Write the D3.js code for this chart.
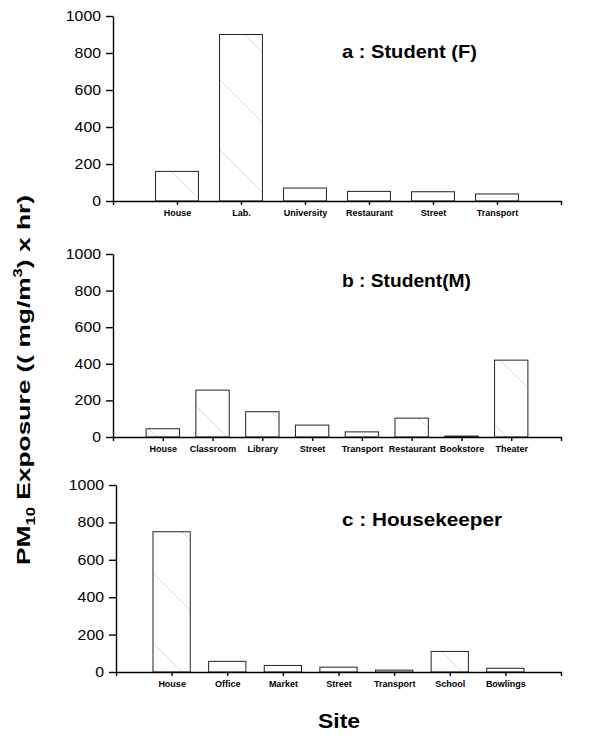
<!DOCTYPE html>
<html>
<head>
<meta charset="utf-8">
<script src="https://cdn.jsdelivr.net/npm/d3@7"></script>
<style>
  body { margin: 0; background: #fff; }
  svg { display: block; font-family: "Liberation Sans", Arial, Helvetica, sans-serif; }
</style>
</head>
<body>
<svg id="chart" width="589" height="736"></svg>
<script>
// data
const catsA = ['House', 'Lab.', 'University', 'Restaurant', 'Street', 'Transport']
const valsA = [160, 900, 70, 52, 50, 38]

const catsB = ['House', 'Classroom', 'Library', 'Street', 'Transport', 'Restaurant', 'Bookstore', 'Theater']
const valsB = [45, 256, 138, 65, 28, 103, 5, 420]

const catsC = ['House', 'Office', 'Market', 'Street', 'Transport', 'School', 'Bowlings']
const valsC = [750, 57, 35, 26, 10, 110, 20]

const yTicks = [0, 200, 400, 600, 800, 1000]

const svg = d3.select('#chart')

// sparse diagonal hatch, like the scanned bars
svg.append('defs').append('pattern')
    .attr('id', 'hatch')
    .attr('patternUnits', 'userSpaceOnUse')
    .attr('width', 70).attr('height', 70)
    .append('path')
    .attr('d', 'M0,0 L70,70')
    .attr('stroke', '#c4c4c4')
    .attr('stroke-width', 0.6)

const drawPanel = (cats, vals, box, title) => {
    const n = cats.length
    const x = d3.scaleLinear().domain([0, n + 1]).range([box.x0, box.x1])
    const y = d3.scaleLinear().domain([0, 1000]).range([box.y0, box.y1])
    const step = x(1) - x(0)
    const bw = step * 0.67

    const g = svg.append('g')

    g.selectAll('rect.bar')
        .data(vals)
        .enter().append('rect')
        .attr('class', 'bar')
        .attr('x', (d, i) => x(i + 1) - bw / 2)
        .attr('y', d => y(d))
        .attr('width', bw)
        .attr('height', d => y(0) - y(d))
        .attr('fill', d => d < 10 ? '#bbb' : 'url(#hatch)')
        .attr('stroke', '#222')
        .attr('stroke-width', 1)

    const xAxis = g.append('g')
        .attr('transform', `translate(0,${y(0)})`)
        .call(d3.axisBottom(x)
            .tickValues(d3.range(1, n + 1))
            .tickFormat(i => cats[i - 1])
            .tickSize(4)
            .tickSizeOuter(4)
            .tickPadding(4.5))
    xAxis.selectAll('text')
        .attr('font-size', 9)
        .attr('font-weight', 'bold')
        .attr('fill', '#000')

    const yAxis = g.append('g')
        .attr('transform', `translate(${box.x0},0)`)
        .call(d3.axisLeft(y)
            .tickValues(yTicks)
            .tickFormat(d3.format('d'))
            .tickSize(7)
            .tickSizeOuter(0)
            .tickPadding(5))
    // scanned digits are a little wider than the font
    yAxis.selectAll('text')
        .attr('font-size', 14)
        .attr('fill', '#000')
        .attr('textLength', d => String(d).length * 8.8)
        .attr('lengthAdjust', 'spacingAndGlyphs')

    g.selectAll('.domain, .tick line')
        .attr('stroke', '#000')
        .attr('stroke-width', 1.4)

    g.append('text')
        .attr('x', 342)
        .attr('y', box.titleY)
        .attr('font-size', 19)
        .attr('font-weight', 'bold')
        .attr('textLength', box.titleLen)
        .attr('lengthAdjust', 'spacingAndGlyphs')
        .text(title)
}

drawPanel(catsA, valsA, { x0: 113, x1: 561, y0: 201, y1: 16, titleY: 58, titleLen: 135 }, 'a : Student (F)')
drawPanel(catsB, valsB, { x0: 113, x1: 561, y0: 437, y1: 254, titleY: 287, titleLen: 129 }, 'b : Student(M)')
drawPanel(catsC, valsC, { x0: 116, x1: 561, y0: 672, y1: 485, titleY: 526, titleLen: 160 }, 'c : Housekeeper')

// axis titles
const yLab = svg.append('text')
    .attr('transform', 'translate(30,380) rotate(-90)')
    .attr('text-anchor', 'middle')
    .attr('font-size', 19)
    .attr('font-weight', 'bold')
    .attr('textLength', 370)
    .attr('lengthAdjust', 'spacingAndGlyphs')
yLab.append('tspan').text('PM')
yLab.append('tspan').attr('dy', 5).attr('font-size', 12).text('10')
yLab.append('tspan').attr('dy', -5).text(' Exposure  (( mg/m')
yLab.append('tspan').attr('dy', -8).attr('font-size', 12).text('3')
yLab.append('tspan').attr('dy', 8).text(') x hr)')

svg.append('text')
    .attr('x', 339)
    .attr('y', 728)
    .attr('text-anchor', 'middle')
    .attr('font-size', 21)
    .attr('font-weight', 'bold')
    .attr('textLength', 42)
    .attr('lengthAdjust', 'spacingAndGlyphs')
    .text('Site')
</script>
</body>
</html>
